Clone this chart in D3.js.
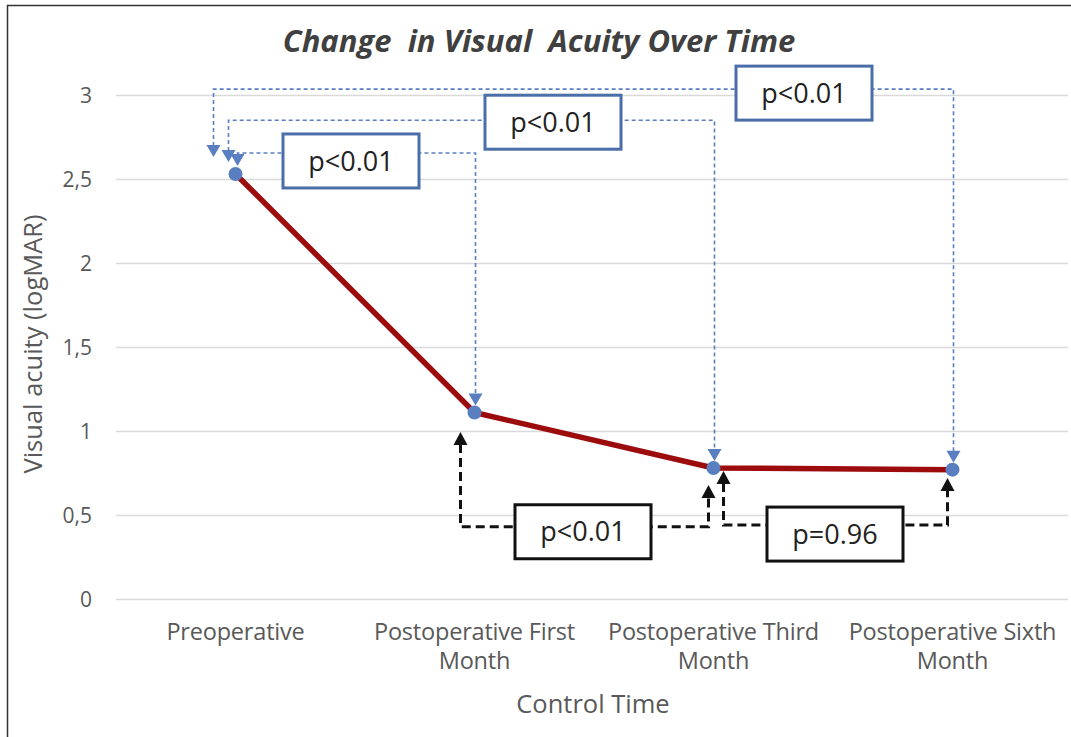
<!DOCTYPE html>
<html>
<head>
<meta charset="utf-8">
<script src="https://cdn.jsdelivr.net/npm/d3@7"></script>
<style>
  body { margin: 0; background: #fff; }
  svg { font-family: "Open Sans", sans-serif; }
</style>
</head>
<body>
<script>
// chart values
var categories = ["Preoperative", "Postoperative First Month", "Postoperative Third Month", "Postoperative Sixth Month"];
var acuity = [2.53, 1.11, 0.78, 0.77];
var yTicks = [0, 0.5, 1, 1.5, 2, 2.5, 3];
var yTickLabels = ["0", "0,5", "1", "1,5", "2", "2,5", "3"];

// comparisons (from index, to index, bracket level in logMAR, p label)
var blueFrom = [0, 0, 0];
var blueTo = [1, 2, 3];
var blueLevel = [2.655, 2.85, 3.035];
var blueLabel = ["p<0.01", "p<0.01", "p<0.01"];
var blackFrom = [1, 2];
var blackTo = [2, 3];
var blackLevel = [0.43, 0.44];
var blackLabel = ["p<0.01", "p=0.96"];

var W = 1071, H = 737;
var margin = {top: 95, right: 0, bottom: 138, left: 116};

var svg = d3.select("body").append("svg")
    .attr("width", W)
    .attr("height", H);

// outer frame (left and top edges visible)
svg.append("path")
    .attr("d", "M7.5,737V5.5H1071")
    .attr("fill", "none")
    .attr("stroke", "#333")
    .attr("stroke-width", 1.5);

var x = d3.scalePoint()
    .domain(categories)
    .range([margin.left, 1072])
    .padding(0.5);

var y = d3.scaleLinear()
    .domain([0, 3])
    .range([599, 95]);

// gridlines
svg.append("g")
  .selectAll("line")
  .data(yTicks)
  .enter().append("line")
    .attr("x1", margin.left)
    .attr("x2", 1068)
    .attr("y1", function(d) { return Math.round(y(d)) + 0.5; })
    .attr("y2", function(d) { return Math.round(y(d)) + 0.5; })
    .attr("stroke", "#d9d9d9")
    .attr("stroke-width", 1.3);

// y tick labels
svg.append("g")
  .selectAll("text")
  .data(yTicks)
  .enter().append("text")
    .attr("x", 92)
    .attr("y", function(d) { return y(d); })
    .attr("dy", "0.36em")
    .attr("text-anchor", "end")
    .attr("fill", "#595959")
    .attr("font-size", 21)
    .text(function(d, i) { return yTickLabels[i]; });

// x category labels (wrapped like Excel)
var xl = svg.append("g")
  .selectAll("text")
  .data(categories)
  .enter().append("text")
    .attr("text-anchor", "middle")
    .attr("fill", "#595959")
    .attr("font-size", 23.5)
    .attr("letter-spacing", -0.2);

xl.each(function(d) {
  var words = d.split(" ");
  var lines = words.length > 1 ? [words.slice(0, 2).join(" "), words.slice(2).join(" ")] : [d];
  var t = d3.select(this);
  lines.forEach(function(l, i) {
    if (!l) return;
    t.append("tspan")
      .attr("x", x(d))
      .attr("y", 640 + i * 29)
      .text(l);
  });
});

// axis titles
svg.append("text")
    .attr("x", 593)
    .attr("y", 713)
    .attr("text-anchor", "middle")
    .attr("fill", "#595959")
    .attr("font-size", 25.5)
    .text("Control Time");

svg.append("text")
    .attr("transform", "translate(42,344) rotate(-90)")
    .attr("text-anchor", "middle")
    .attr("fill", "#595959")
    .attr("font-size", 25.5)
    .text("Visual acuity (logMAR)");

// title
svg.append("text")
    .attr("x", 539)
    .attr("y", 52)
    .attr("text-anchor", "middle")
    .attr("fill", "#404040")
    .attr("font-size", 31)
    .attr("font-weight", "bold")
    .attr("font-style", "italic")
    .style("white-space", "pre")
    .text("Change  in Visual  Acuity Over Time");

// line
var line = d3.line()
    .x(function(d, i) { return x(categories[i]); })
    .y(function(d) { return y(d); });

svg.append("path")
    .datum(acuity)
    .attr("d", line)
    .attr("fill", "none")
    .attr("stroke", "#9c0c0c")
    .attr("stroke-width", 5.5)
    .attr("stroke-linejoin", "round");

var blue = "#5a7fc0";

// arrow helpers
function triDown(g, cx, tipY, color) {
  g.append("path")
    .attr("d", "M" + (cx - 7) + "," + (tipY - 12) + "L" + (cx + 7) + "," + (tipY - 12) + "L" + cx + "," + tipY + "Z")
    .attr("fill", color);
}
function triUp(g, cx, tipY, color) {
  g.append("path")
    .attr("d", "M" + (cx - 7) + "," + (tipY + 13) + "L" + (cx + 7) + "," + (tipY + 13) + "L" + cx + "," + tipY + "Z")
    .attr("fill", color);
}

// blue brackets (from Preoperative down to later points)
var blueLeftOff = [2, -7, -22];
var blueLeftTip = [166, 162, 157];
var blueBoxCx = [351, 553, 804];
var bg = svg.append("g");
blueFrom.forEach(function(f, i) {
  var lx = x(categories[f]) + blueLeftOff[i];
  var rx = x(categories[blueTo[i]]) + 1;
  var ly = y(blueLevel[i]);
  var rTip = y(acuity[blueTo[i]]) - 7;
  bg.append("path")
    .attr("d", "M" + lx + "," + (blueLeftTip[i] - 11) + "V" + ly + "H" + rx + "V" + (rTip - 11))
    .attr("fill", "none")
    .attr("stroke", blue)
    .attr("stroke-width", 1.6)
    .attr("stroke-dasharray", "4,3");
  triDown(bg, lx, blueLeftTip[i], blue);
  triDown(bg, rx, rTip, blue);
});

// points
svg.append("g")
  .selectAll("circle")
  .data(acuity)
  .enter().append("circle")
    .attr("cx", function(d, i) { return x(categories[i]); })
    .attr("cy", function(d) { return y(d); })
    .attr("r", 7)
    .attr("fill", blue);

// black brackets (consecutive postoperative comparisons)
var blackLeftOff = [-14, 10];
var blackRightOff = [-5, -5];
var blackLeftTip = [432, 471];
var blackRightTip = [485, 478];
var blackBoxCx = [583, 835];
var kg = svg.append("g");
blackFrom.forEach(function(f, i) {
  var lx = x(categories[f]) + blackLeftOff[i];
  var rx = x(categories[blackTo[i]]) + blackRightOff[i];
  var ly = y(blackLevel[i]);
  kg.append("path")
    .attr("d", "M" + lx + "," + (blackLeftTip[i] + 12) + "V" + ly + "H" + rx + "V" + (blackRightTip[i] + 12))
    .attr("fill", "none")
    .attr("stroke", "#111")
    .attr("stroke-width", 3)
    .attr("stroke-dasharray", "9,5");
  triUp(kg, lx, blackLeftTip[i], "#111");
  triUp(kg, rx, blackRightTip[i], "#111");
});

// label boxes
function labelBox(cx, cy, txt, stroke) {
  var g = svg.append("g");
  g.append("rect")
    .attr("x", cx - 68)
    .attr("y", cy - 27)
    .attr("width", 136)
    .attr("height", 54)
    .attr("fill", "#fff")
    .attr("stroke", stroke)
    .attr("stroke-width", 3);
  g.append("text")
    .attr("x", cx)
    .attr("y", cy)
    .attr("dy", "0.36em")
    .attr("text-anchor", "middle")
    .attr("fill", "#222")
    .attr("font-size", 27)
    .text(txt);
}
blueLabel.forEach(function(l, i) {
  labelBox(blueBoxCx[i], y(blueLevel[i]) + [8, 2, 4][i], l, "#4a6ea8");
});
blackLabel.forEach(function(l, i) {
  labelBox(blackBoxCx[i], y(blackLevel[i]) + [5, 9][i], l, "#111");
});
</script>
</body>
</html>
